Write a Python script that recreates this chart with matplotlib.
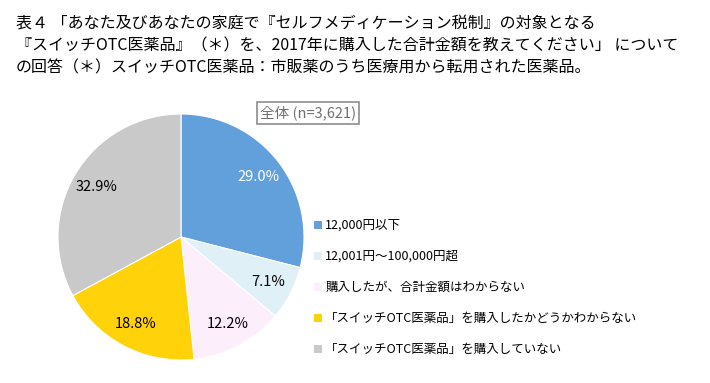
import matplotlib.pyplot as plt
from matplotlib.patches import Patch

plt.rcParams['font.family'] = ['Noto Sans CJK JP', 'DejaVu Sans']

# 回答カテゴリと割合 (%)
categories = [
    "12,000円以下",
    "12,001円～100,000円超",
    "購入したが、合計金額はわからない",
    "「スイッチOTC医薬品」を購入したかどうかわからない",
    "「スイッチOTC医薬品」を購入していない",
]
shares = [29.0, 7.1, 12.2, 18.8, 32.9]
colors = ["#62A0DB", "#DFF0F6", "#FDEEFB", "#FFD20A", "#C9C9C9"]
label_colors = ["white", "black", "black", "black", "black"]

title = ("表４ 「あなた及びあなたの家庭で『セルフメディケーション税制』の対象となる\n"
         "『スイッチOTC医薬品』（＊）を、2017年に購入した合計金額を教えてください」 について\n"
         "の回答（＊）スイッチOTC医薬品：市販薬のうち医療用から転用された医薬品。")

fig = plt.figure(figsize=(7.10, 3.83), dpi=100)
fig.patch.set_facecolor("white")

fig.text(16 / 710, 1 - 15 / 383, title, ha="left", va="top",
         fontsize=11.5, linespacing=1.4)

ax = fig.add_axes([58 / 710, 23 / 383, 246 / 710, 246 / 383])
wedges, texts, autotexts = ax.pie(
    shares, colors=colors, startangle=90, counterclock=False,
    autopct="%.1f%%", pctdistance=0.8,
    wedgeprops=dict(edgecolor="white", linewidth=0.8),
    textprops=dict(fontsize=10.5),
)
for t, c in zip(autotexts, label_colors):
    t.set_color(c)
ax.set_xlim(-1, 1)
ax.set_ylim(-1, 1)
ax.set_aspect("equal")

# 全体 (n=3,621) box
fig.text(308 / 710, 1 - 113 / 383, "全体 (n=3,621)", ha="center", va="center",
         fontsize=10.5, color="#707070",
         bbox=dict(boxstyle="square,pad=0.22", facecolor="white",
                   edgecolor="#8C8C8C", linewidth=1.2))

handles = [Patch(facecolor=c, edgecolor="none") for c in colors]
fig.legend(handles, categories, loc="upper left",
           bbox_to_anchor=(309 / 710, 1 - 214 / 383), frameon=False,
           fontsize=9, handlelength=0.6, handleheight=0.6,
           handletextpad=0.3, labelspacing=1.45, borderaxespad=0)

plt.savefig("out.png", dpi=100)
